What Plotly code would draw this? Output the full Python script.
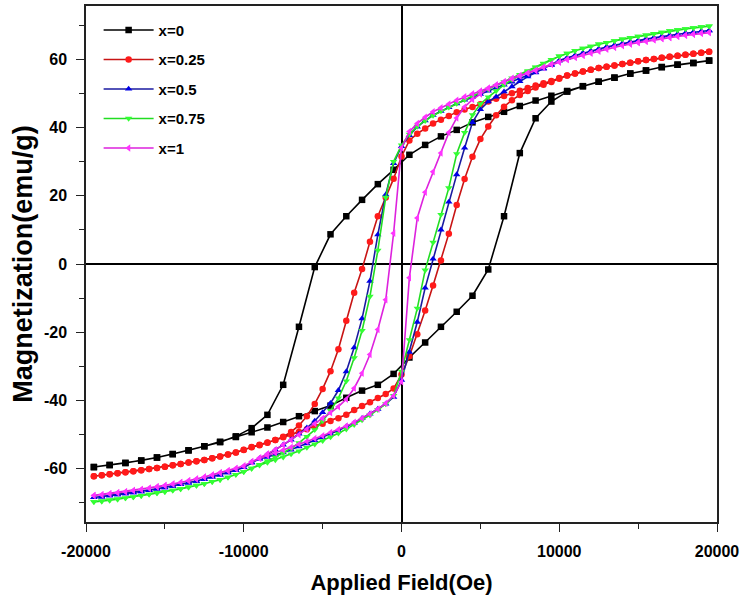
"""
Hysteresis loops M(H) for the x = 0 ... 1 series.
"""

import plotly.graph_objects as go

# applied field steps (Oe), descending sweep; the ascending sweep is the reverse
FIELD_COARSE = [19500, 18500, 17500, 16500, 15500, 14500, 13500, 12500, 11500, 10500,
                9500, 8500, 7500, 6500, 5500, 4500, 3500, 2500, 1500, 500,
                -500, -1500, -2500, -3500, -4500, -5500, -6500, -7500, -8500, -9500,
                -10500, -11500, -12500, -13500, -14500, -15500, -16500, -17500, -18500, -19500]

FIELD_FINE = [19500, 19000, 18500, 18000, 17500, 17000, 16500, 16000, 15500, 15000,
              14500, 14000, 13500, 13000, 12500, 12000, 11500, 11000, 10500, 10000,
              9500, 9000, 8500, 8000, 7500, 7000, 6500, 6000, 5500, 5000,
              4500, 4000, 3500, 3000, 2500, 2000, 1500, 1000, 500, 0,
              -500, -1000, -1500, -2000, -2500, -3000, -3500, -4000, -4500, -5000,
              -5500, -6000, -6500, -7000, -7500, -8000, -8500, -9000, -9500, -10000,
              -10500, -11000, -11500, -12000, -12500, -13000, -13500, -14000, -14500, -15000,
              -15500, -16000, -16500, -17000, -17500, -18000, -18500, -19000, -19500]

X_TICKS = [-20000, -10000, 0, 10000, 20000]
X_TICK_LABELS = ["-20000", "-10000", "0", "10000", "20000"]
Y_TICKS = [-60, -40, -20, 0, 20, 40, 60]
Y_TICK_LABELS = ["-60", "-40", "-20", "0", "20", "40", "60"]

# x = 0  (1000 Oe steps)
M0_DOWN = [59.6, 58.9, 58.4, 57.7, 56.7, 55.8, 54.6, 53.4, 52.1, 50.7,
           49.3, 47.9, 46.3, 44.6, 43.1, 41.5, 39.3, 37.4, 34.9, 32.0,
           27.6, 23.4, 18.8, 14.0, 8.7, -0.9, -18.4, -35.4, -44.2, -48.1,
           -50.5, -52.2, -53.4, -54.6, -55.7, -56.7, -57.6, -58.3, -58.9, -59.5]
M0_UP = [-59.5, -58.9, -58.3, -57.6, -56.7, -55.7, -54.6, -53.4, -52.1, -50.7,
         -49.3, -47.9, -46.3, -44.6, -43.1, -41.5, -39.2, -37.1, -35.4, -32.2,
         -27.4, -23.0, -18.4, -14.0, -9.3, -1.6, 14.0, 32.5, 42.7, 47.6,
         50.5, 52.1, 53.4, 54.6, 55.8, 56.7, 57.7, 58.4, 58.9, 59.6]

# x = 0.25
M25_DOWN = [62.2, 61.9, 61.6, 61.3, 61.0, 60.7, 60.4, 60.1, 59.8, 59.4,
            59.0, 58.6, 58.2, 57.8, 57.4, 56.9, 56.4, 55.8, 55.2, 54.5,
            53.6, 53.0, 52.3, 51.6, 50.8, 50.0, 49.2, 48.4, 47.6, 46.8,
            46.0, 45.3, 44.5, 43.4, 42.3, 41.2, 39.7, 38.2, 36.2, 31.5,
            25.0, 19.5, 14.0, 6.5, -1.5, -8.4, -16.6, -25.0, -31.4, -36.6,
            -41.0, -44.6, -47.3, -49.2, -50.6, -51.6, -52.4, -53.1, -53.7, -54.4,
            -55.2, -55.8, -56.4, -56.9, -57.4, -57.8, -58.2, -58.6, -59.0, -59.4,
            -59.8, -60.1, -60.4, -60.7, -61.0, -61.3, -61.6, -61.9, -62.2]
M25_UP = [-62.2, -61.9, -61.6, -61.3, -61.0, -60.7, -60.4, -60.1, -59.8, -59.4,
          -59.0, -58.6, -58.2, -57.8, -57.4, -56.9, -56.4, -55.8, -55.2, -54.5,
          -53.6, -53.0, -52.3, -51.6, -50.8, -50.0, -49.2, -48.4, -47.6, -46.8,
          -46.0, -45.2, -44.2, -42.8, -41.6, -40.5, -39.3, -38.1, -36.5, -32.4,
          -27.0, -20.6, -13.6, -6.3, 1.0, 8.9, 17.3, 24.9, 31.4, 36.6,
          40.3, 43.6, 46.1, 48.0, 49.5, 50.7, 51.7, 52.5, 53.3, 54.3,
          55.2, 55.8, 56.4, 56.9, 57.4, 57.8, 58.2, 58.6, 59.0, 59.4,
          59.8, 60.1, 60.4, 60.7, 61.0, 61.3, 61.6, 61.9, 62.2]

# x = 0.5
M50_DOWN = [68.4, 68.2, 67.9, 67.6, 67.3, 67.0, 66.7, 66.3, 65.9, 65.5,
            65.1, 64.6, 64.1, 63.6, 63.0, 62.4, 61.8, 61.1, 60.4, 59.6,
            58.4, 57.3, 56.2, 55.3, 54.4, 53.4, 52.5, 51.6, 50.7, 49.8,
            49.0, 48.1, 47.0, 45.9, 44.8, 43.6, 42.0, 40.2, 37.7, 34.5,
            29.5, 20.3, 8.6, -5.0, -16.0, -24.5, -31.5, -37.0, -40.8, -43.5,
            -46.0, -48.0, -49.8, -51.5, -53.0, -54.5, -55.8, -57.0, -58.2, -59.6,
            -60.4, -61.1, -61.8, -62.4, -63.0, -63.6, -64.1, -64.6, -65.1, -65.5,
            -65.9, -66.3, -66.7, -67.0, -67.3, -67.6, -67.9, -68.2, -68.4]
M50_UP = [-68.4, -68.2, -67.9, -67.6, -67.3, -67.0, -66.7, -66.3, -65.9, -65.5,
          -65.1, -64.6, -64.1, -63.6, -63.0, -62.4, -61.8, -61.1, -60.4, -59.6,
          -58.2, -57.1, -56.6, -55.9, -55.3, -54.5, -53.5, -52.6, -51.7, -50.8,
          -49.8, -48.8, -47.6, -46.6, -45.2, -43.9, -42.5, -41.0, -39.0, -34.0,
          -25.8, -17.0, -7.0, 1.5, 10.0, 18.2, 26.2, 34.0, 41.5, 45.3,
          47.6, 49.0, 50.5, 52.0, 53.5, 54.9, 56.1, 57.2, 58.3, 59.6,
          60.4, 61.1, 61.8, 62.4, 63.0, 63.6, 64.1, 64.6, 65.1, 65.5,
          65.9, 66.3, 66.7, 67.0, 67.3, 67.6, 67.9, 68.2, 68.4]

# x = 0.75
M75_DOWN = [69.7, 69.5, 69.2, 68.9, 68.6, 68.3, 67.9, 67.5, 67.1, 66.7,
            66.3, 65.9, 65.4, 64.9, 64.4, 63.8, 63.2, 62.5, 61.7, 60.9,
            59.9, 58.8, 57.7, 56.6, 55.5, 54.5, 53.4, 52.3, 51.2, 50.2,
            49.2, 48.1, 47.0, 45.9, 44.8, 43.5, 42.0, 40.3, 38.0, 34.8,
            30.0, 19.5, 4.0, -9.5, -19.5, -27.5, -34.3, -39.3, -43.0, -46.0,
            -48.6, -50.6, -52.4, -54.0, -55.4, -56.6, -57.7, -58.8, -59.9, -60.9,
            -61.7, -62.5, -63.2, -63.8, -64.4, -64.9, -65.4, -65.9, -66.3, -66.7,
            -67.1, -67.5, -67.9, -68.3, -68.6, -68.9, -69.2, -69.5, -69.7]
M75_UP = [-69.7, -69.5, -69.2, -68.9, -68.6, -68.3, -67.9, -67.5, -67.1, -66.7,
          -66.3, -65.9, -65.4, -64.9, -64.4, -63.8, -63.2, -62.5, -61.7, -60.9,
          -59.9, -59.0, -58.2, -57.4, -56.6, -55.7, -54.8, -53.8, -52.8, -51.8,
          -50.7, -49.6, -48.4, -47.1, -45.7, -44.3, -42.7, -41.0, -38.6, -31.5,
          -22.2, -13.0, -1.8, 6.3, 14.5, 22.3, 32.3, 38.5, 43.7, 46.9,
          48.9, 50.7, 52.5, 54.0, 55.3, 56.4, 57.6, 58.7, 59.8, 60.9,
          61.7, 62.5, 63.2, 63.8, 64.4, 64.9, 65.4, 65.9, 66.3, 66.7,
          67.1, 67.5, 67.9, 68.3, 68.6, 68.9, 69.2, 69.5, 69.7]

# x = 1
M100_DOWN = [67.8, 67.6, 67.3, 67.0, 66.7, 66.4, 66.1, 65.7, 65.3, 64.9,
             64.5, 64.0, 63.5, 63.0, 62.4, 61.8, 61.2, 60.6, 59.9, 59.2,
             58.5, 57.7, 56.8, 56.0, 55.2, 54.4, 53.4, 52.5, 51.6, 50.7,
             49.9, 49.0, 48.0, 46.9, 45.8, 44.6, 43.0, 41.2, 38.8, 34.0,
             9.0, -10.5, -19.2, -26.5, -32.0, -36.4, -39.6, -41.8, -43.6, -45.2,
             -46.8, -48.4, -50.0, -51.6, -53.0, -54.4, -55.6, -56.8, -57.9, -59.2,
             -59.9, -60.6, -61.2, -61.8, -62.4, -63.0, -63.5, -64.0, -64.5, -64.9,
             -65.3, -65.7, -66.1, -66.4, -66.7, -67.0, -67.3, -67.6, -67.8]
M100_UP = [-67.8, -67.6, -67.3, -67.0, -66.7, -66.4, -66.1, -65.7, -65.3, -64.9,
           -64.5, -64.0, -63.5, -63.0, -62.4, -61.8, -61.2, -60.6, -59.9, -59.2,
           -58.0, -57.0, -56.1, -55.3, -54.5, -53.7, -52.8, -52.0, -51.1, -50.3,
           -49.4, -48.5, -47.5, -46.4, -45.2, -43.9, -42.5, -40.8, -38.6, -34.5,
           -4.0, 13.5, 21.0, 27.0, 32.5, 38.5, 42.8, 46.0, 48.2, 49.8,
           51.4, 52.4, 53.4, 54.3, 55.1, 55.9, 56.7, 57.6, 58.5, 59.2,
           59.9, 60.6, 61.2, 61.8, 62.4, 63.0, 63.5, 64.0, 64.5, 64.9,
           65.3, 65.7, 66.1, 66.4, 66.7, 67.0, 67.3, 67.6, 67.8]

SERIES = [
    ("x=0",    FIELD_COARSE, M0_DOWN,   M0_UP,   "#000000", "#000000", "square"),
    ("x=0.25", FIELD_FINE,   M25_DOWN,  M25_UP,  "#c81414", "#ff1a1a", "circle"),
    ("x=0.5",  FIELD_FINE,   M50_DOWN,  M50_UP,  "#1a1aa0", "#0000e6", "triangle-up"),
    ("x=0.75", FIELD_FINE,   M75_DOWN,  M75_UP,  "#22dd22", "#33ff33", "triangle-down"),
    ("x=1",    FIELD_FINE,   M100_DOWN, M100_UP, "#dd22dd", "#ff33ff", "triangle-left"),
]

FONT = "Liberation Sans, Arial, sans-serif"

fig = go.Figure()
for i, (name, field, down, up, line_col, mk_col, symbol) in enumerate(SERIES):
    fig.add_trace(go.Scatter(
        x=field + field[::-1], y=down + up,
        name=name, legendgroup=f"g{i}",
        mode="lines+markers",
        line=dict(color=line_col, width=1.6),
        marker=dict(symbol=symbol, size=6.5, color=mk_col, line=dict(width=0)),
    ))

axis_common = dict(
    showgrid=False, showline=True, mirror=True,
    linecolor="#222222", linewidth=1.5,
    zeroline=True, zerolinecolor="#000000", zerolinewidth=1.6,
    ticks="outside", ticklen=8, tickwidth=1.3, tickcolor="#222222",
    tickfont=dict(size=16, family=FONT, color="#000000", weight="bold"),
    tickmode="array", ticklabelstandoff=6,
)

fig.update_layout(
    width=745, height=600,
    plot_bgcolor="#ffffff", paper_bgcolor="#ffffff",
    margin=dict(l=86, r=28, t=4, b=78),
    font=dict(family=FONT, color="#000000"),
    showlegend=True,
    legend=dict(
        x=0.02, y=0.985, xanchor="left", yanchor="top",
        bgcolor="rgba(0,0,0,0)", tracegroupgap=7, itemwidth=50,
        font=dict(size=15, family=FONT, color="#000000", weight="bold"),
    ),
    xaxis=dict(
        **axis_common,
        range=[-20000, 20000], tickvals=X_TICKS, ticktext=X_TICK_LABELS,
        minor=dict(tick0=0, dtick=5000, ticklen=5, ticks="outside", tickcolor="#222222"),
        title=dict(text="Applied Field(Oe)", standoff=16,
                   font=dict(size=22, family=FONT, color="#000000", weight="bold")),
    ),
    yaxis=dict(
        **axis_common,
        range=[-75.6, 75.6], tickvals=Y_TICKS, ticktext=Y_TICK_LABELS,
        minor=dict(tick0=0, dtick=10, ticklen=5, ticks="outside", tickcolor="#222222"),
        title=dict(text="Magnetization(emu/g)", standoff=3,
                   font=dict(size=27, family=FONT, color="#000000", weight="bold")),
    ),
)

# the page's default 8px body margin would push the 745x600 figure off the window
fig.write_html("out.html", config={"displayModeBar": False},
               post_script="document.body.style.margin = '0';")
